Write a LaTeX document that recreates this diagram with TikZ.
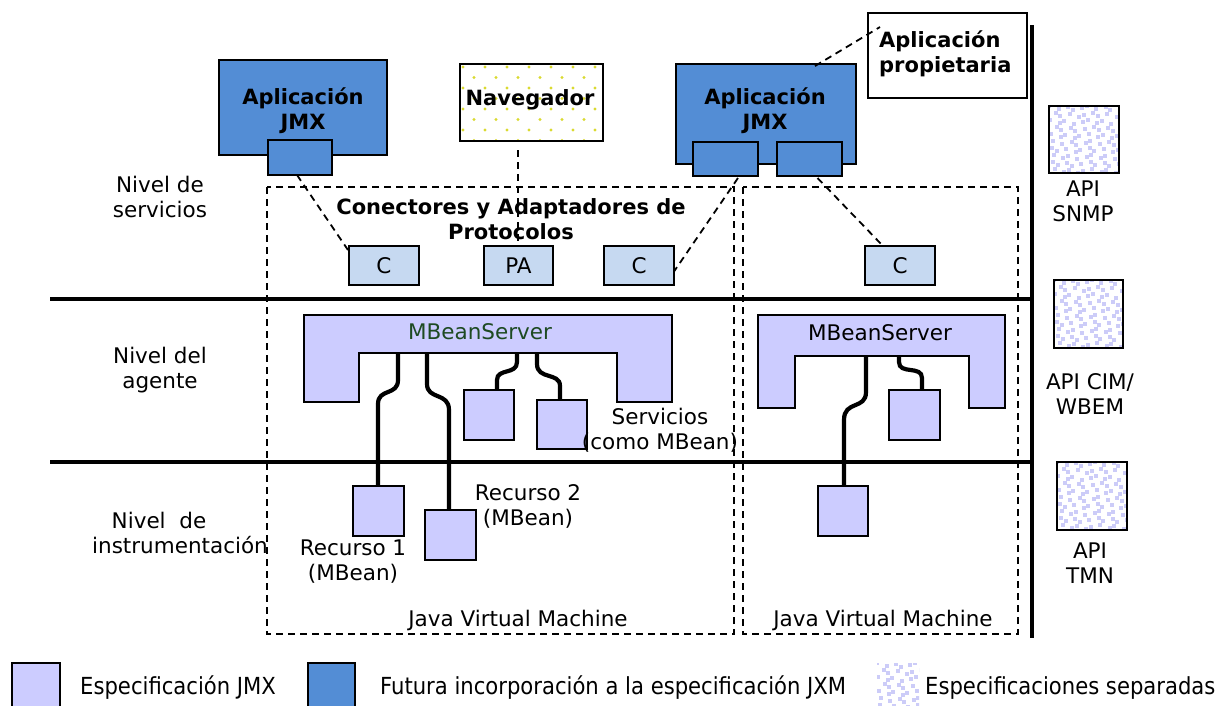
\documentclass[tikz,border=0pt]{standalone}
\usepackage{fontspec}
\setmainfont{DejaVu Sans}
\newfontfamily\condfont{DejaVu Sans Condensed}
\usetikzlibrary{calc}
\definecolor{jmxblue}{HTML}{538DD5}
\definecolor{lpurple}{HTML}{CCCCFF}
\definecolor{lblue}{HTML}{C6D9F1}
\definecolor{dotyellow}{HTML}{DADA30}
\definecolor{patlav}{HTML}{CCCCF8}
\definecolor{mbgreen}{HTML}{1E4A22}
\newcommand{\lavpat}[4]{%
  \begin{scope}
  \clip (#1,#2) rectangle (#3,#4);
  \foreach \i in {0,...,11}{\foreach \j in {0,...,11}{%
    \pgfmathsetmacro\px{#1+\i*7.5+mod(\i*7+\j*3,5)-2+mod(\j,2)*3.5}%
    \pgfmathsetmacro\py{#2+\j*7+mod(\i*3+\j*5,5)-2}%
    \fill[patlav] (\px,\py) rectangle ++(4,4);
  }}
  \end{scope}}
\newcommand{\yeldots}[4]{%
  \begin{scope}
  \clip (#1,#2) rectangle (#3,#4);
  \foreach \i in {0,...,8}{\foreach \j in {0,...,8}{%
    \pgfmathsetmacro\px{#1+3+\i*22+mod(\j,2)*11}%
    \pgfmathsetmacro\py{#2+3+\j*10.5}%
    \fill[dotyellow] (\px,\py) circle (1.7);
  }}
  \end{scope}}
\tikzset{
  tx/.style={font=\fontsize{21.5}{25}\selectfont, align=center, inner sep=0pt},
  bx/.style={font=\fontsize{21}{25}\selectfont\bfseries, align=center, inner sep=0pt},
  lg/.style={font=\fontsize{23.5}{24}\selectfont\condfont, inner sep=0pt, anchor=west},
  box/.style={draw, line width=2pt, inner sep=0pt, outer sep=0pt, anchor=north west},
  jmxbox/.style={box, fill=jmxblue},
  specbox/.style={box, fill=lpurple},
  connbox/.style={box, fill=lblue, font=\fontsize{21.5}{24}\selectfont},
  dashl/.style={dash pattern=on 7pt off 5pt, line width=1.8pt},
  wire/.style={line width=4.2pt},
  level/.style={line width=4pt},
}
\begin{document}
\begin{tikzpicture}[x=1pt,y=-1pt]
\clip (0,0) rectangle (1227,705);
\fill[white] (0,0) rectangle (1227,705);

% JVM dashed boxes
\draw[dashl] (267,187) rectangle (734,634);
\draw[dashl] (743,187) rectangle (1018,634);

% level lines
\draw[level] (50,299) -- (1032,299);
\draw[level] (50,462) -- (1032,462);
\draw[line width=4.5pt] (1032,25) -- (1032,638);

% level labels
\node[tx] at (160,197) {Nivel de\\servicios};
\node[tx] at (160,370) {Nivel del\\agente};
\node[tx] at (159,520) {Nivel\ \ de};
\node[tx] at (180,545) {instrumentación};

% applications
\node[jmxbox, minimum width=168pt, minimum height=95pt] (app1) at (219,60) {};
\node[bx] at (303,111) {Aplicación\\JMX};
\node[jmxbox, minimum width=64pt, minimum height=35pt] (app1c) at (268,140) {};

\yeldots{460}{64}{603}{141}
\node[box, minimum width=143pt, minimum height=77pt] (nav) at (460,64) {};
\node[bx] at (530,100) {Navegador};

\node[jmxbox, minimum width=180pt, minimum height=100pt] (app2) at (676,64) {};
\node[bx] at (765,111) {Aplicación\\JMX};
\node[jmxbox, minimum width=65pt, minimum height=34pt] (app2a) at (693,142) {};
\node[jmxbox, minimum width=65pt, minimum height=34pt] (app2b) at (777,142) {};

\node[box, fill=white, minimum width=159pt, minimum height=85pt] (prop) at (868,13) {};
\node[bx, align=left, anchor=west] at (879,54) {Aplicación\\propietaria};

% connectors
\node[connbox, minimum width=70pt, minimum height=39pt] (c1) at (349,246) {C};
\node[connbox, minimum width=69pt, minimum height=39pt] (pa) at (484,246) {PA};
\node[connbox, minimum width=70pt, minimum height=39pt] (c2) at (604,246) {C};
\node[connbox, minimum width=70pt, minimum height=39pt] (c3) at (865,246) {C};
\node[bx] at (511,219) {Conectores y Adaptadores de\\Protocolos};

% dashed links
\coordinate (navend) at (518,150);
\coordinate (paend) at (518,241);
\draw[dashl] (navend) -- (paend);
\draw[dashl] ($(app1c.south)+(-3,0)$) -- ($(c1.north west)+(-1,4)$);
\draw[dashl] ($(app2a.south east)+(-20,2)$) -- ($(c2.east)+(0,6)$);
\draw[dashl] ($(app2b.south)+(8,2)$) -- ($(c3.north)+(-17,0)$);
\coordinate (propend) at (880,27);
\draw[dashl] ($(app2.north)+(49,2)$) -- (propend);

% MBeanServer left
\draw[line width=2pt, fill=lpurple] (304,315) -- (672,315) -- (672,402) -- (617,402) -- (617,353) -- (359,353) -- (359,402) -- (304,402) -- cycle;
\node[tx, text=mbgreen] (mbs1) at (480,332) {MBeanServer};
\coordinate (w1) at (398,353);
\coordinate (w2) at (427,353);
\coordinate (w3) at (517,353);
\coordinate (w4) at (537,353);

\node[specbox, minimum width=50pt, minimum height=50pt] (s1) at (464,390) {};
\node[specbox, minimum width=50pt, minimum height=49pt] (s2) at (537,400) {};
\node[specbox, minimum width=51pt, minimum height=50pt] (r1) at (353,486) {};
\node[specbox, minimum width=51pt, minimum height=50pt] (r2) at (425,510) {};

\draw[wire] (w1) -- (398,380) .. controls (398,396) and (378,388) .. (378,404) -- (r1.north -| 378,0);
\draw[wire] (w2) -- (427,384) .. controls (427,400) and (449,392) .. (449,410) -- (r2.north -| 449,0);
\draw[wire] (w3) -- (517,362) .. controls (517,375) and (497,368) .. (497,380) -- (s1.north -| 497,0);
\draw[wire] (w4) -- (537,364) .. controls (537,380) and (560,372) .. (560,386) -- (s2.north -| 560,0);

\node[tx] at (660,430) {Servicios\\(como MBean)};
\node[tx] at (353,562) {Recurso 1\\(MBean)};
\node[tx] at (528,506) {Recurso 2\\(MBean)};
\node[tx] at (518,620) {Java Virtual Machine};

% MBeanServer right
\draw[line width=2pt, fill=lpurple] (758,315) -- (1005,315) -- (1005,408) -- (969,408) -- (969,356) -- (795,356) -- (795,408) -- (758,408) -- cycle;
\node[tx] (mbs2) at (880,333) {MBeanServer};
\coordinate (w5) at (866,356);
\coordinate (w6) at (899,356);
\node[specbox, minimum width=51pt, minimum height=50pt] (s3) at (889,390) {};
\node[specbox, minimum width=50pt, minimum height=50pt] (r3) at (818,486) {};
\draw[wire] (w5) -- (866,392) .. controls (866,410) and (844,400) .. (844,420) -- (r3.north -| 844,0);
\draw[wire] (w6) -- (899,362) .. controls (899,375) and (922,365) .. (922,378) -- (s3.north -| 922,0);
\node[tx] at (883,620) {Java Virtual Machine};

% API boxes
\lavpat{1049}{106}{1119}{173}
\node[box, minimum width=70pt, minimum height=67pt] (snmp) at (1049,106) {};
\node[tx] at (1083,201) {API\\SNMP};
\lavpat{1054}{280}{1123}{348}
\node[box, minimum width=69pt, minimum height=68pt] (cim) at (1054,280) {};
\node[tx] at (1090,394) {API CIM/\\WBEM};
\lavpat{1057}{462}{1127}{530}
\node[box, minimum width=70pt, minimum height=68pt] (tmn) at (1057,462) {};
\node[tx] at (1090,563) {API\\TMN};

% legend
\node[specbox, minimum width=48pt, minimum height=50pt] (l1) at (12,663) {};
\node[lg] at (80,688) {Especificación JMX};
\node[jmxbox, minimum width=47pt, minimum height=50pt] (l2) at (308,663) {};
\node[lg] at (380,688) {Futura incorporación a la especificación JXM};
\lavpat{877}{663}{919}{713}
\node[box, draw=none, minimum width=42pt, minimum height=50pt] (l3) at (877,663) {};
\node[lg] at (925,688) {Especificaciones separadas};
\end{tikzpicture}
\end{document}
